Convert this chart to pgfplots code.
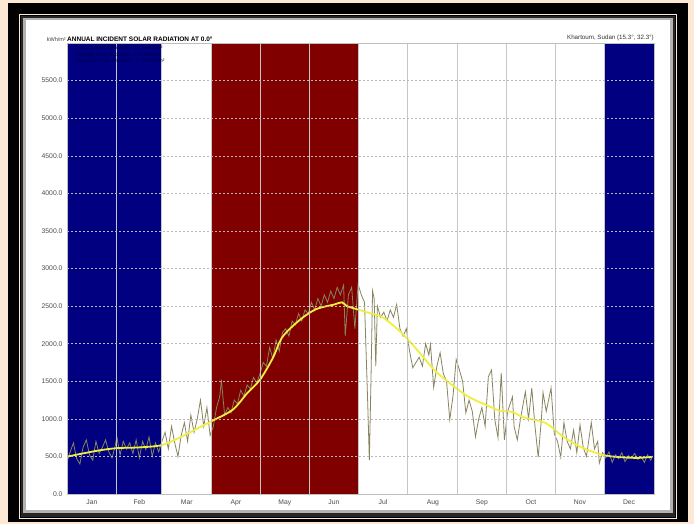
\documentclass[border=0pt]{standalone}
\usepackage{fontspec}
\setmainfont{Liberation Sans}
\usepackage{pgfplots}
\pgfplotsset{compat=1.18}
\definecolor{peach}{RGB}{252,232,212}
\definecolor{navyband}{RGB}{0,0,128}
\definecolor{redband}{RGB}{128,0,0}
\definecolor{meanyel}{RGB}{240,240,60}
\definecolor{dailyol}{RGB}{135,132,95}
\begin{document}
\begin{tikzpicture}[x=1pt,y=1pt]
\fill[peach] (0,0) rectangle (694,524);
\fill[black] (8,2) rectangle (688,521);
\draw[peach,line width=1.5pt] (19.5,5.5) rectangle (676.5,509.5);
\fill[black!85] (21,7) rectangle (675,508);
\fill[gray!60] (23,11) rectangle (673,506);
\fill[white] (26,14) rectangle (670,504);
\begin{axis}[
  name=ax,
  axis on top,
  scale only axis, width=587pt, height=451pt,
  at={(67pt,30pt)}, anchor=south west,
  xmin=0, xmax=365, ymin=0, ymax=6000,
  xtick={15.5,45,74.5,105,135.5,166,196.5,227.5,258,288.5,319,349.5},
  xticklabels={Jan,Feb,Mar,Apr,May,Jun,Jul,Aug,Sep,Oct,Nov,Dec},
  minor xtick={31,59,90,120,151,181,212,243,273,304,334},
  xminorgrids, minor x grid style={draw=gray!45, line width=0.9pt},
  ytick={0,500,...,5500}, ymajorgrids,
  major y grid style={draw=gray!55, dash pattern=on 2pt off 2pt, line width=0.4pt},
  major tick length=0pt, minor tick length=0pt,
  axis line style={draw=gray!50, line width=0.5pt},
  /pgf/number format/assume math mode=true,
  ticklabel style={font=\fontsize{6.8}{8}\selectfont, text=black!70},
  xticklabel style={yshift=-2pt},
  yticklabel style={xshift=-1pt, /pgf/number format/.cd, fixed, fixed zerofill, precision=1, 1000 sep={}},
]
\addplot[fill=navyband, draw=none] coordinates {(0,0) (0,6000) (59,6000) (59,0)} -- cycle;
\addplot[fill=redband, draw=none] coordinates {(90,0) (90,6000) (181,6000) (181,0)} -- cycle;
\addplot[fill=navyband, draw=none] coordinates {(334,0) (334,6000) (365,6000) (365,0)} -- cycle;
% daily values
\addplot[dailyol, line width=0.8pt] coordinates {
(0,430)(2,560)(4,680)(6,470)(8,400)(10,620)(12,720)(14,520)(16,450)(18,700)(20,540)(22,620)(24,720)(26,560)(28,480)(30,640)
(31,760)(33,520)(35,700)(37,600)(39,680)(41,540)(43,720)(45,480)(47,700)(49,590)(51,760)(53,500)(55,680)(57,560)(59,700)
(61,820)(63,600)(65,900)(67,680)(69,500)(71,780)(73,950)(75,700)(77,1050)(79,820)(81,1000)(83,1250)(85,900)(87,1150)(89,780)
(91,900)(93,1150)(95,1300)(96,1520)(98,1050)(100,1150)(102,1080)(104,1250)(106,1200)(108,1380)(110,1300)(112,1450)(114,1400)(116,1550)(118,1480)
(120,1600)(122,1750)(124,1700)(126,1950)(128,1800)(130,2050)(132,1900)(134,2150)(136,2200)(138,2100)(140,2300)(142,2250)(144,2400)(146,2300)(148,2450)(150,2400)
(152,2550)(154,2450)(156,2600)(158,2500)(160,2650)(162,2550)(164,2700)(166,2600)(168,2750)(170,2650)(172,2780)(173,2100)(175,2650)(177,2750)(179,2200)(181,2790)
(183,2650)(185,2550)(187,1200)(188,450)(189,1500)(190,2700)(191,2600)(192,1700)(193,2500)(195,2350)(197,2420)(199,2300)(201,2450)(203,2350)(205,2520)(207,2200)(209,2100)(211,2200)
(213,1900)(215,1680)(217,1750)(219,1820)(221,1700)(223,2000)(225,1850)(226,1990)(228,1420)(230,1700)(232,1880)(234,1600)(236,1500)(238,990)(240,1300)(242,1790)
(244,1650)(246,1500)(248,1080)(250,1250)(252,1100)(254,760)(256,1000)(258,1150)(260,900)(262,1560)(264,1650)(266,990)(268,750)(270,1610)(272,720)
(274,1100)(277,1290)(278,900)(280,720)(282,1000)(285,1360)(287,1000)(289,1410)(291,900)(293,490)(295,1000)(296,1350)(298,1100)(301,1410)(303,800)
(305,700)(307,490)(309,950)(311,700)(313,600)(315,850)(317,550)(319,920)(321,620)(323,500)(326,950)(328,600)(330,700)(331,410)(333,550)
(335,480)(337,560)(339,420)(341,520)(343,470)(345,550)(347,430)(349,510)(351,480)(353,540)(355,460)(357,500)(359,420)(361,520)(363,450)(364,500)
};
% smoothed mean
\addplot[meanyel, line width=1.8pt, smooth] coordinates {
(0,497)(10,540)(20,580)(31,610)(45,620)(59,650)(70,750)(80,860)(90,970)(103,1120)(112,1340)(120,1520)(128,1810)(134,2090)(145,2320)(155,2460)(166,2520)(171,2550)(174,2500)(180,2460)(186,2420)(197,2340)(211,2080)(228,1660)(240,1440)(250,1290)(259,1200)(269,1110)(277,1090)(284,1020)(298,940)(308,770)(319,630)(333,520)(344,490)(355,480)(364,495)
};
\end{axis}
\node[anchor=south west, inner sep=0pt, font=\bfseries\fontsize{6.5}{7}\selectfont] at ([yshift=1.5pt]ax.north west) {ANNUAL INCIDENT SOLAR RADIATION AT 0.0°};
\node[anchor=south east, inner sep=0pt, font=\fontsize{5.5}{6}\selectfont, text=black!75] at ([xshift=-1pt, yshift=1.5pt]ax.north west) {kWh/m²};
\node[anchor=south east, inner sep=0pt, font=\fontsize{6.2}{7}\selectfont, text=black!80] at ([yshift=2pt]ax.north east) {Khartoum, Sudan (15.3°, 32.3°)};
\node[anchor=north west, inner sep=0pt, align=left, font=\fontsize{5}{6.5}\selectfont, text=black!75!blue] at ([xshift=9pt, yshift=-3pt]ax.north west) {Total Incident Radiation: 474.1 kWh/m²\\Average Daily Radiation: 1.30 kWh/m²\\Maximum Daily Radiation: 2.79 kWh/m²};
\end{tikzpicture}
\end{document}
